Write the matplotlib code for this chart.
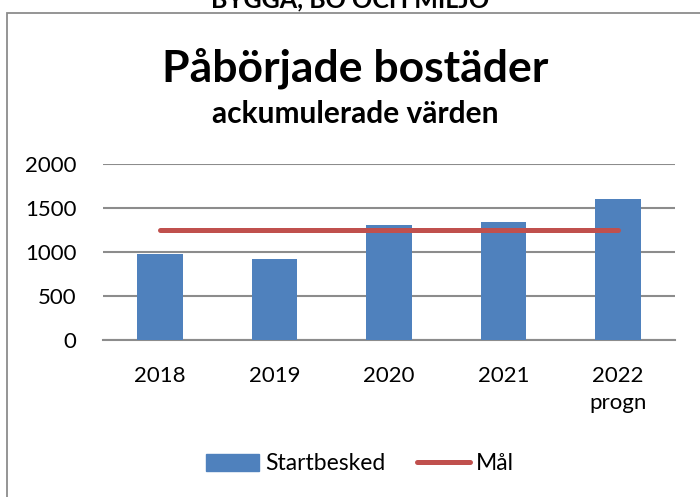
import matplotlib
matplotlib.use("Agg")
import matplotlib.pyplot as plt
from matplotlib.patches import Rectangle
from matplotlib.lines import Line2D

categories = ["2018", "2019", "2020", "2021", "2022\nprogn"]
startbesked = [972, 918, 1308, 1341, 1597]
mal = [1250, 1250, 1250, 1250, 1250]
yticks = [0, 500, 1000, 1500, 2000]

plt.rcParams['font.family'] = ['Lato', 'DejaVu Sans']

W, H = 700, 497
fig = plt.figure(figsize=(7, 4.97), dpi=100)

def fx(x):
    return x / W

def fy(y):
    return 1 - y / H

# outer frame
fig.patches.append(Rectangle((fx(7), fy(600)), 2, fy(12.5) - fy(600), transform=fig.transFigure,
                             fill=False, edgecolor='#8c8c8c', linewidth=1.3))
# cut-off header text
fig.text(0.5, fy(7), "BYGGA, BO OCH MILJÖ", ha='center', va='baseline',
         fontsize=18, fontweight='bold', color='black')

ax = fig.add_axes([fx(103), fy(340), fx(675) - fx(103), fy(163.7) - fy(340)])
x = list(range(len(categories)))
ax.bar(x, startbesked, width=0.4, color='#4F81BD', zorder=3, label='Startbesked')
ax.plot(x, mal, color='#C0504D', linewidth=3.6, solid_capstyle='round', zorder=4, label='Mål')

ax.set_xlim(-0.5, len(categories) - 0.5)
ax.set_ylim(0, 2000)
ax.set_yticks(yticks)
ax.set_yticklabels([str(v) for v in yticks], fontsize=16)
ax.set_xticks(x)
ax.set_xticklabels(categories, fontsize=16, linespacing=1.4, va='top')
ax.tick_params(axis='both', length=0)
ax.tick_params(axis='y', pad=19)
ax.tick_params(axis='x', pad=19)
ax.grid(axis='y', color='#8c8c8c', linewidth=1.5, zorder=0)
for s in ['left', 'right', 'top']:
    ax.spines[s].set_visible(False)
ax.spines['bottom'].set_color('#8c8c8c')
ax.spines['bottom'].set_linewidth(1.5)
ax.set_axisbelow(True)

fig.text(fx(355), fy(81), "Påbörjade bostäder", ha='center', va='baseline',
         fontsize=32, fontweight='bold')
fig.text(fx(355), fy(123), "ackumulerade värden", ha='center', va='baseline',
         fontsize=21.5, fontweight='bold')

handles = [Rectangle((0, 0), 1, 1, color='#4F81BD'),
           Line2D([0], [0], color='#C0504D', linewidth=3.6, solid_capstyle='round')]
fig.legend(handles, ['Startbesked', 'Mål'], loc='center', bbox_to_anchor=(fx(360), fy(464)),
           ncol=2, frameon=False, fontsize=16.5, handlelength=2.3, handleheight=0.7,
           handletextpad=0.25, columnspacing=1.4)

fig.savefig("out.png", dpi=100)
